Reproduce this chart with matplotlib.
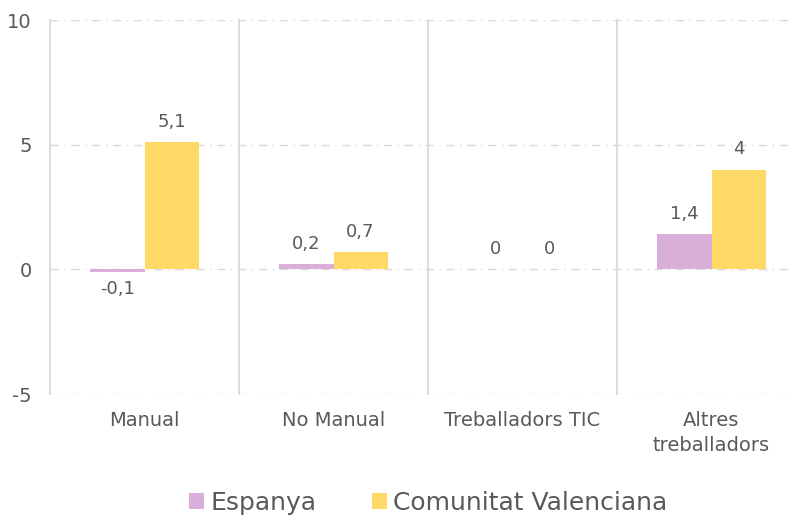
import matplotlib.pyplot as plt
import numpy as np

categories = ['Manual', 'No Manual', 'Treballadors TIC', 'Altres\ntreballadors']
espanya = [-0.1, 0.2, 0, 1.4]
valenciana = [5.1, 0.7, 0, 4]
series_names = ['Espanya', 'Comunitat Valenciana']

plt.rcParams['font.family'] = ['DejaVu Sans']
plt.rcParams['axes.unicode_minus'] = False
grey = '#595959'

fig = plt.figure(figsize=(7.93, 5.2), dpi=100)
ax = fig.add_axes([50/793, 126/520, 756/793, 374/520])

x = np.arange(len(categories))
w = 0.286
b1 = ax.bar(x - w/2, espanya, w, color='#D9AED9', label=series_names[0], zorder=3)
b2 = ax.bar(x + w/2, valenciana, w, color='#FFD966', label=series_names[1], zorder=3)

def fmt(v):
    s = ('%g' % v).replace('.', ',')
    return s

for bars, vals in [(b1, espanya), (b2, valenciana)]:
    for rect, v in zip(bars, vals):
        cx = rect.get_x() + rect.get_width()/2
        if v < 0:
            ax.annotate(fmt(v), (cx, v), xytext=(0, -6), textcoords='offset points',
                        ha='center', va='top', color=grey, fontsize=13)
        else:
            ax.annotate(fmt(v), (cx, v), xytext=(0, 8), textcoords='offset points',
                        ha='center', va='bottom', color=grey, fontsize=13)

ax.set_ylim(-5, 10)
ax.set_xlim(-0.5, len(categories) - 0.5)
ax.set_yticks([-5, 0, 5, 10])
ax.set_xticks(x)
ax.set_xticklabels(categories, va='top', linespacing=1.45)
ax.tick_params(length=0, colors=grey, labelsize=14)
ax.tick_params(axis='x', pad=12)
ax.tick_params(axis='y', pad=13)
for s in ax.spines.values():
    s.set_visible(False)
for yv in [-5, 0, 5, 10]:
    ax.axhline(yv, color='#D9D9D9', lw=1, ls=(0, (6, 4, 1, 4)), zorder=1)
for xv in np.arange(-0.5, len(categories), 1.0):
    ax.axvline(xv, color='#D9D9D9', lw=1.3, zorder=1, clip_on=False)

fig.legend(handles=[b1, b2], loc='center', bbox_to_anchor=(0.54, 17/520),
           ncol=2, frameon=False, fontsize=18, labelcolor=grey,
           handlelength=0.6, handleheight=0.6, handletextpad=0.25, columnspacing=2.2)

fig.savefig('out.png', dpi=100)
